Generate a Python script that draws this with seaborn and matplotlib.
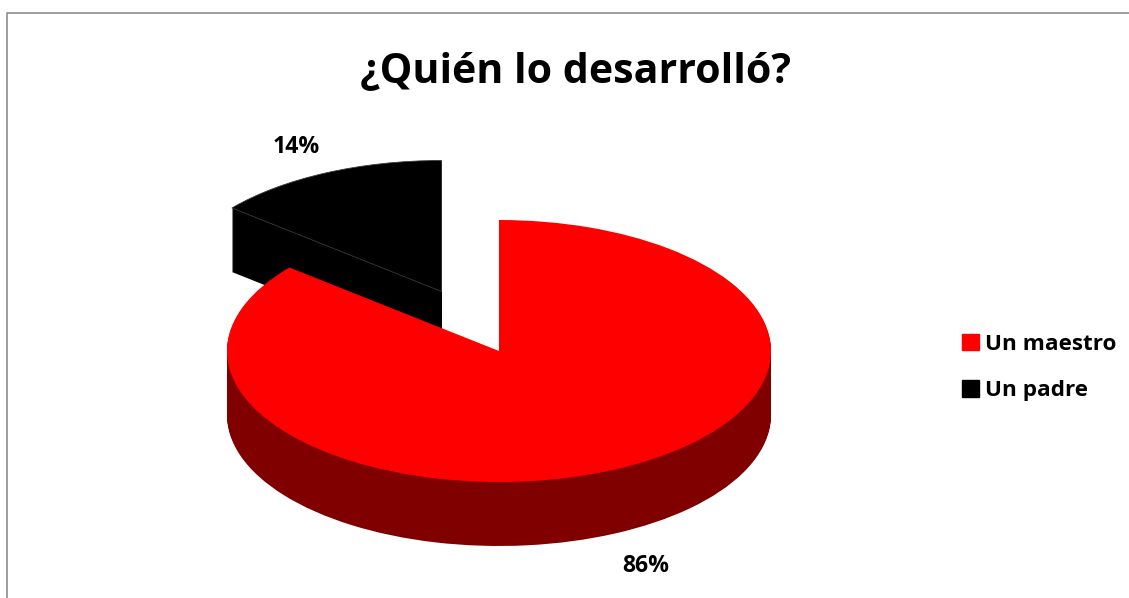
import matplotlib
matplotlib.use("Agg")
import matplotlib.pyplot as plt
from matplotlib.lines import Line2D
import seaborn as sns

# Chart data
categories = ["Un maestro", "Un padre"]
values = [86, 14]
pct_labels = ["86%", "14%"]
title_text = "¿Quién lo desarrolló?"

W, H = 1129, 598
red, dark_red, black = "#ff0000", "#800000", "#000000"

sns.set_theme(style="white")
plt.rcParams["font.family"] = ["Open Sans", "DejaVu Sans"]

fig = plt.figure(figsize=(W / 100, H / 100), dpi=100, facecolor="white")


def fx(x):
    return x / W


def fy(y):
    return 1 - y / H


# Pie geometry in reference pixels: centre, half axes, depth
cx, cy, rx, ry, depth = 499, 351, 272, 131, 64
black_cx, black_cy = 441.5, 291.5


def slice_layer(ax, x, y, color, keep):
    # same two wedges every time, the other one is left invisible
    colors = [color if i == keep else "none" for i in range(len(values))]
    wedges, _ = ax.pie(values, startangle=90, counterclock=False, colors=colors,
                       center=((x - cx) / rx, (cy - y) / ry), radius=1,
                       wedgeprops={"linewidth": 0})
    return wedges


ax = fig.add_axes([0, 0, 1, 1])

# black slice, pulled out of the pie
for d in range(depth, 0, -1):
    slice_layer(ax, black_cx, black_cy + d, black, 1)
top = slice_layer(ax, black_cx, black_cy, black, 1)
# thin light seam where the top face meets the side
top[1].set_edgecolor("#3a3a3a")
top[1].set_linewidth(0.6)

# red slice
for d in range(depth, 0, -1):
    slice_layer(ax, cx, cy + d, dark_red, 0)
slice_layer(ax, cx, cy, red, 0)

ax.set_aspect("auto")
ax.set_xlim(-cx / rx, (W - cx) / rx)
ax.set_ylim(-(H - cy) / ry, cy / ry)
ax.axis("off")

# Chart area border, top and left only
fig.add_artist(Line2D([fx(7), fx(7), fx(W)], [fy(H), fy(12.5), fy(12.5)],
                      color="#8c8c8c", lw=1.2))

fig.text(fx(575), fy(82), title_text, fontsize=29.6, fontweight="bold",
         ha="center", va="baseline", color="black")
fig.text(fx(646), fy(571.5), pct_labels[0], fontsize=16.6, fontweight="bold",
         ha="center", va="baseline", color="black")
fig.text(fx(296), fy(153), pct_labels[1], fontsize=16.6, fontweight="bold",
         ha="center", va="baseline", color="black")

# Legend
handles = [plt.Rectangle((0, 0), 1, 1, color=c) for c in [red, black]]
leg = fig.legend(handles, categories, loc="center left",
                 bbox_to_anchor=(fx(962), fy(367.5)), frameon=False,
                 prop={"size": 16.2, "weight": "bold"}, handlelength=0.75,
                 handleheight=0.75, handletextpad=0.27, labelspacing=1.14,
                 borderpad=0, borderaxespad=0, labelcolor="black")

fig.savefig("out.png", dpi=100)
